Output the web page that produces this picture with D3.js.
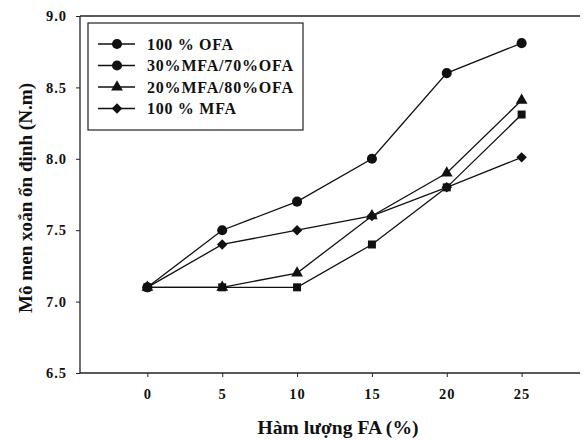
<!DOCTYPE html>
<html>
<head>
<meta charset="utf-8">
<script src="https://cdn.jsdelivr.net/npm/d3@7"></script>
<style>
  body { margin: 0; background: #fff; }
  svg text { font-family: "Liberation Serif", "DejaVu Serif", serif; fill: #111; }
</style>
</head>
<body>
<svg id="chart" width="585" height="442"></svg>
<script>
// data
const faLevels = [0, 5, 10, 15, 20, 25];
const ofa100 = [7.1, 7.5, 7.7, 8.0, 8.6, 8.81];
const mfa30ofa70 = [7.1, 7.1, 7.1, 7.4, 7.8, 8.31];
const mfa20ofa80 = [7.1, 7.1, 7.2, 7.6, 7.9, 8.41];
const mfa100 = [7.1, 7.4, 7.5, 7.6, 7.8, 8.01];
const seriesNames = ["100 % OFA", "30%MFA/70%OFA", "20%MFA/80%OFA", "100 % MFA"];
const yTicks = [6.5, 7.0, 7.5, 8.0, 8.5, 9.0];
const xTitle = "Hàm lượng FA (%)";
const yTitle = "Mô men xoắn ổn định (N.m)";

const svg = d3.select("#chart");
const plotL = 80, plotR = 580, plotT = 16, plotB = 373;

const x = d3.scaleLinear().domain([-4.5, 28.9]).range([plotL, plotR]);
const y = d3.scaleLinear().domain([6.5, 9.0]).range([plotB, plotT]);

// axes
const yAxis = svg.append("g")
    .attr("transform", "translate(" + plotL + ",0)")
    .call(d3.axisLeft(y).tickValues(yTicks).tickFormat(d3.format(".1f")).tickSize(4).tickPadding(9));
const xAxis = svg.append("g")
    .attr("transform", "translate(0," + plotB + ")")
    .call(d3.axisBottom(x).tickValues(faLevels).tickSize(4).tickPadding(12));

[xAxis, yAxis].forEach(g => {
  g.select(".domain").remove();
  g.selectAll("line").attr("stroke", "#222");
  g.selectAll("text").attr("font-size", 14.5).attr("font-weight", "bold")
      .attr("letter-spacing", 1)
      .attr("font-family", "Liberation Serif").attr("fill", "#111");
});

// frame lines: left, bottom, top
svg.append("line").attr("x1", plotL).attr("x2", plotL).attr("y1", plotT).attr("y2", plotB).attr("stroke", "#222").attr("stroke-width", 1.3);
svg.append("line").attr("x1", plotL).attr("x2", plotR).attr("y1", plotB).attr("y2", plotB).attr("stroke", "#222").attr("stroke-width", 1.3);
svg.append("line").attr("x1", plotL).attr("x2", plotR).attr("y1", plotT).attr("y2", plotT).attr("stroke", "#222").attr("stroke-width", 1.3);

// titles
svg.append("text").attr("x", 338).attr("y", 434).attr("text-anchor", "middle")
    .attr("font-size", 19).attr("font-weight", "bold")
    .attr("textLength", 161).attr("lengthAdjust", "spacingAndGlyphs").text(xTitle);
svg.append("text").attr("transform", "translate(32,198) rotate(-90)").attr("text-anchor", "middle")
    .attr("font-size", 19).attr("font-weight", "bold")
    .attr("textLength", 230).attr("lengthAdjust", "spacingAndGlyphs").text(yTitle);

const sym = {
  circle: d3.symbol().type(d3.symbolCircle).size(80),
  square: d3.symbol().type(d3.symbolSquare).size(64),
  triangle: d3.symbol().type(d3.symbolTriangle).size(60),
  diamond: d3.symbol().type(d3.symbolSquare).size(55)
};
const rot = { circle: 0, square: 0, triangle: 0, diamond: 45 };

const allSeries = [
  { vals: ofa100, mark: "circle", legendMark: "circle" },
  { vals: mfa30ofa70, mark: "square", legendMark: "circle" },
  { vals: mfa20ofa80, mark: "triangle", legendMark: "triangle" },
  { vals: mfa100, mark: "diamond", legendMark: "diamond" }
];

const line = d3.line().x((d, i) => x(faLevels[i])).y(d => y(d));

allSeries.forEach(s => {
  svg.append("path").datum(s.vals).attr("d", line)
      .attr("fill", "none").attr("stroke", "#111").attr("stroke-width", 1.3);
});
// markers drawn after lines; circle series last so the 0-point looks round
[1, 2, 3, 0].forEach(k => {
  const s = allSeries[k];
  svg.append("g").selectAll("path").data(s.vals).enter().append("path")
      .attr("d", sym[s.mark])
      .attr("transform", (d, i) => "translate(" + x(faLevels[i]) + "," + y(d) + ") rotate(" + rot[s.mark] + ")")
      .attr("fill", "#111");
});

// legend
const legendLen = [86, 146, 146, 89];
const lg = svg.append("g");
lg.append("rect").attr("x", 88).attr("y", 23).attr("width", 215).attr("height", 107)
    .attr("fill", "#fff").attr("stroke", "#222").attr("stroke-width", 1.2);
seriesNames.forEach((name, i) => {
  const yy = 44 + i * 21.5;
  const m = allSeries[i].legendMark;
  lg.append("line").attr("x1", 98).attr("x2", 135).attr("y1", yy).attr("y2", yy)
      .attr("stroke", "#111").attr("stroke-width", 1.3);
  lg.append("path").attr("d", sym[m])
      .attr("transform", "translate(117," + yy + ") rotate(" + rot[m] + ")").attr("fill", "#111");
  lg.append("text").attr("x", 147).attr("y", yy + 5.5).attr("font-size", 16)
      .attr("font-weight", "bold")
      .attr("textLength", legendLen[i]).attr("lengthAdjust", "spacing").text(name);
});
</script>
</body>
</html>
